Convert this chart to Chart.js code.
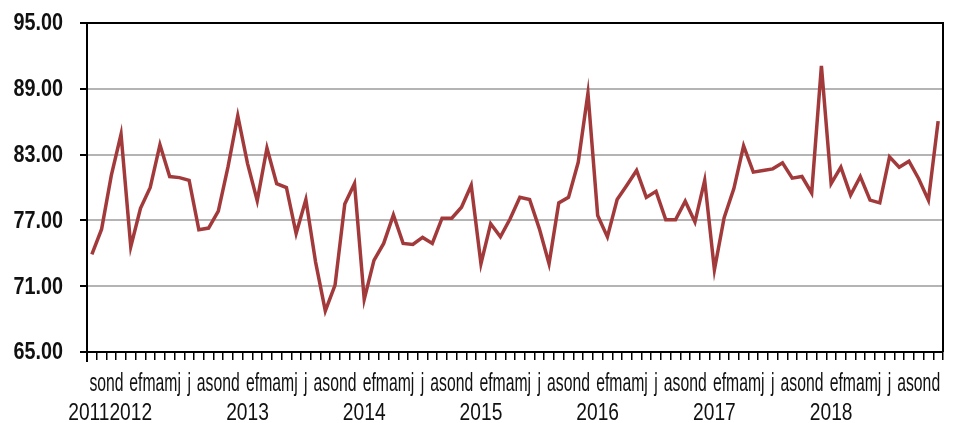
<!DOCTYPE html>
<html>
<head>
<meta charset="utf-8">
<script src="https://cdn.jsdelivr.net/npm/chart.js@4/dist/chart.umd.min.js"></script>
<style>
html,body{margin:0;padding:0;background:#fff;}
#wrap{width:958px;height:423px;position:relative;}
</style>
</head>
<body>
<div id="wrap"><canvas id="c" width="958" height="423"></canvas></div>
<script>
// Month initials (Spanish) and years
const monthInitials = ['e','f','m','a','m','j','j','a','s','o','n','d'];
const years = ['2011','2012','2013','2014','2015','2016','2017','2018'];
const startMonth = 8; // septiembre 2011 (0-based index)

// Series values, Sep 2011 .. Dec 2018
const values = [
  73.9, 76.2, 81.1, 84.85,
  74.6, 78.1, 80.0, 83.9, 81.0, 80.9, 80.65, 76.15, 76.3, 77.85, 81.9, 86.55,
  82.2, 78.8, 83.6, 80.35, 80.0, 75.8, 78.9, 73.2, 68.75, 71.1, 78.5, 80.35,
  69.8, 73.35, 74.9, 77.5, 74.9, 74.8, 75.45, 74.9, 77.2, 77.2, 78.2, 80.2,
  73.05, 76.7, 75.5, 77.15, 79.1, 78.9, 76.25, 73.05, 78.6, 79.1, 82.3, 88.6,
  77.45, 75.5, 78.9, 80.2, 81.55, 79.1, 79.65, 77.05, 77.05, 78.75, 76.85, 80.65,
  72.5, 77.25, 79.9, 83.8, 81.4, 81.55, 81.7, 82.25, 80.85, 81.0, 79.5, 91.1,
  80.35, 81.85, 79.3, 81.0, 78.85, 78.6, 82.8, 81.85, 82.4, 80.8, 78.85, 86.05
];

const yTicks = [65, 71, 77, 83, 89, 95];

// Build categories
const categories = [];
const monthLabels = [];
const monthIndex = [];
const yearLabels = [];
for (let i = 0; i < values.length; i++) {
  const m = (startMonth + i) % 12;
  const y = 2011 + Math.floor((startMonth + i) / 12);
  categories.push(y + '-' + String(m + 1).padStart(2, '0'));
  monthLabels.push(monthInitials[m]);
  monthIndex.push(m);
  yearLabels.push((i === 0 || m === 0) ? String(y) : '');
}

const FONT = '"Liberation Sans", Arial, sans-serif';

const labelPlugin = {
  id: 'labels',
  afterDraw(chart) {
    const ctx = chart.ctx;
    const xs = chart.scales.x;
    const ys = chart.scales.y;
    const a = chart.chartArea;
    ctx.save();
    // frame (top and right)
    ctx.strokeStyle = '#000';
    ctx.lineWidth = 2;
    ctx.beginPath();
    ctx.moveTo(a.left - 1, a.top);
    ctx.lineTo(a.right, a.top);
    ctx.lineTo(a.right, a.bottom);
    ctx.stroke();
    ctx.beginPath();
    ctx.moveTo(a.left, a.bottom); ctx.lineTo(a.left, a.bottom + 10);
    ctx.stroke();
    ctx.fillStyle = '#111';
    // y labels (condensed bold)
    ctx.textAlign = 'right';
    ctx.textBaseline = 'middle';
    for (const v of yTicks) {
      const y = ys.getPixelForValue(v);
      ctx.save();
      ctx.translate(63, y + 1);
      ctx.scale(0.86, 1);
      ctx.font = 'bold 23px ' + FONT;
      ctx.fillText(v.toFixed(2), 0, 0);
      ctx.restore();
    }
    // x month labels: runs of letters packed together, centred on their categories
    ctx.textAlign = 'center';
    ctx.textBaseline = 'alphabetic';
    const half = (xs.getPixelForValue(1) - xs.getPixelForValue(0)) / 2;
    const groups = [];
    for (let i = 0; i < categories.length; i++) {
      const m = monthIndex[i];
      if (i === 0 || m === 0 || m === 6 || m === 7) groups.push({ s: i, e: i, t: '' });
      const g = groups[groups.length - 1];
      g.e = i; g.t += monthLabels[i];
    }
    for (const g of groups) {
      const x0 = xs.getPixelForValue(g.s) - half;
      const x1 = xs.getPixelForValue(g.e) + half;
      ctx.save();
      ctx.translate((x0 + x1) / 2, 391);
      ctx.scale(0.63, 1);
      ctx.font = '25px ' + FONT;
      ctx.fillText(g.t, 0, 0);
      ctx.restore();
    }
    // year labels
    for (let i = 0; i < categories.length; i++) {
      if (!yearLabels[i]) continue;
      const x = xs.getPixelForValue(i);
      ctx.save();
      ctx.translate(i === 0 ? x - 3 : x, 420);
      ctx.scale(0.8, 1);
      ctx.font = '24px ' + FONT;
      ctx.fillText(yearLabels[i], 0, 0);
      ctx.restore();
    }
    ctx.restore();
  }
};

new Chart(document.getElementById('c'), {
  type: 'line',
  data: {
    labels: categories,
    datasets: [{
      data: values,
      borderColor: '#A23A3B',
      borderWidth: 3.5,
      pointRadius: 0,
      tension: 0,
      fill: false
    }]
  },
  options: {
    responsive: false,
    animation: false,
    events: [],
    layout: { padding: { left: 0, right: 15, top: 23, bottom: 0 } },
    plugins: { legend: { display: false }, tooltip: { enabled: false } },
    scales: {
      x: {
        type: 'category',
        offset: true,
        grid: {
          offset: true,
          drawOnChartArea: false,
          drawTicks: true,
          tickLength: 8,
          color: '#000',
          lineWidth: 1.5
        },
        border: { display: true, color: '#000', width: 2 },
        ticks: { display: false, autoSkip: false },
        afterFit(scale) { scale.height = 71; }
      },
      y: {
        min: 65,
        max: 95,
        afterBuildTicks(scale) { scale.ticks = yTicks.map(v => ({ value: v })); },
        grid: { color: '#b4b4b4', lineWidth: 2, drawTicks: true, tickLength: 7, tickColor: '#000', tickWidth: 2 },
        border: { display: true, color: '#000', width: 2 },
        ticks: { display: false },
        afterFit(scale) { scale.width = 87; }
      }
    }
  },
  plugins: [labelPlugin]
});
</script>
</body>
</html>
